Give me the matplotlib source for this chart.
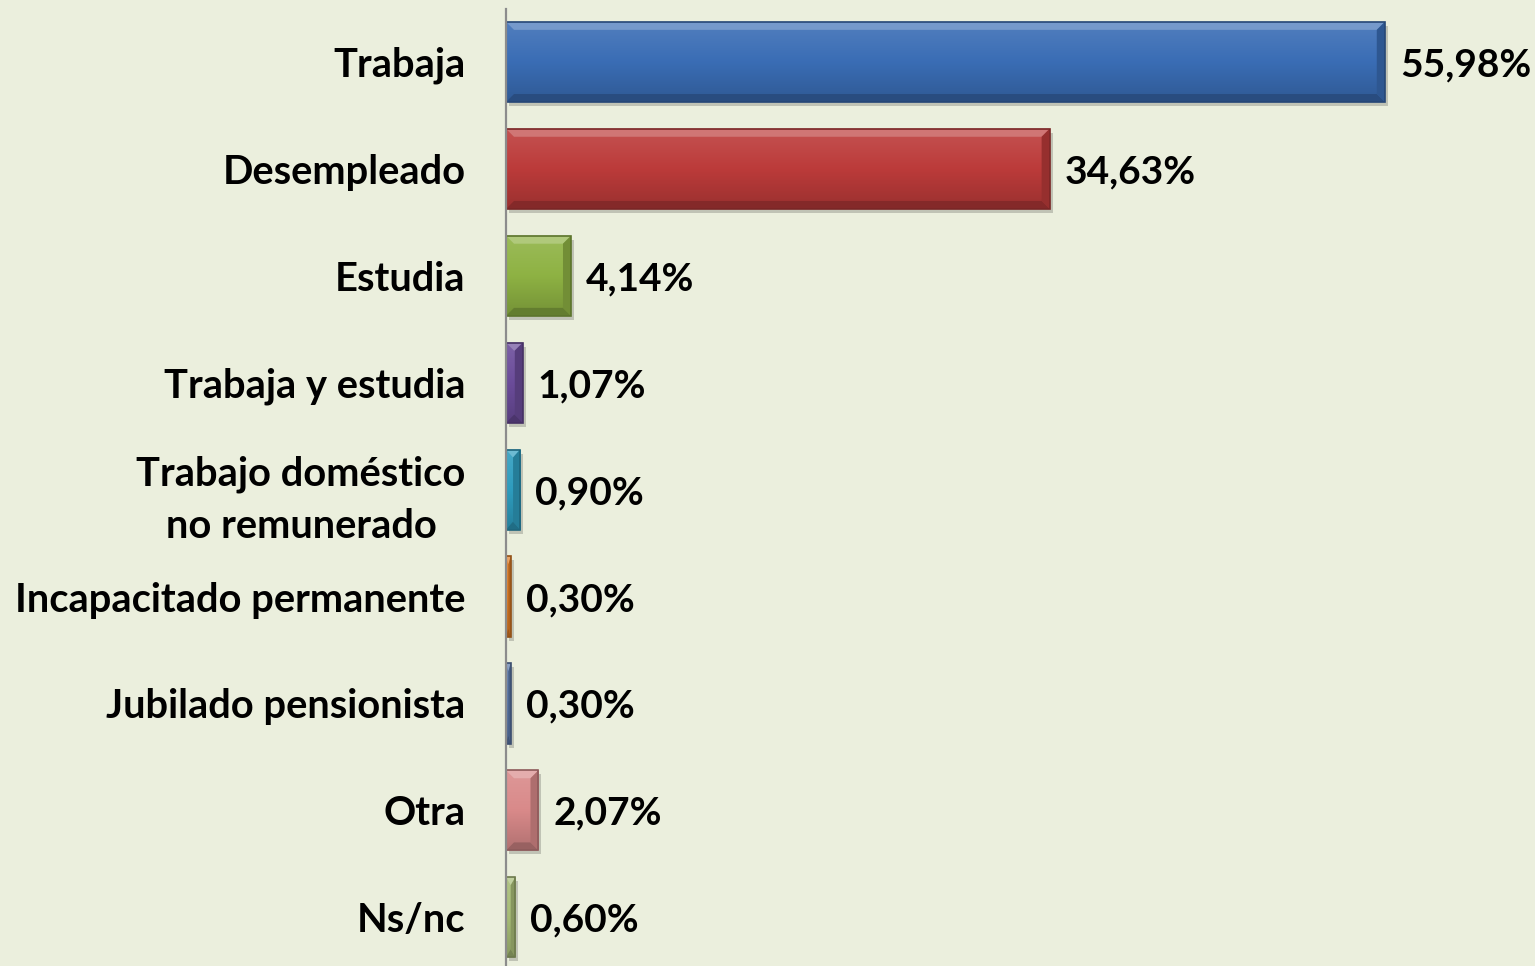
import numpy as np
import matplotlib
matplotlib.use("Agg")
import matplotlib.pyplot as plt
from matplotlib.patches import Polygon
from matplotlib.colors import to_rgb
import matplotlib.transforms as mtransforms

categorias = ["Trabaja", "Desempleado", "Estudia", "Trabaja y estudia",
              "Trabajo doméstico\nno remunerado", "Incapacitado permanente",
              "Jubilado pensionista", "Otra", "Ns/nc"]
porcentajes = [55.98, 34.63, 4.14, 1.07, 0.90, 0.30, 0.30, 2.07, 0.60]
etiquetas = ["55,98%", "34,63%", "4,14%", "1,07%", "0,90%", "0,30%", "0,30%", "2,07%", "0,60%"]
colores = ["#3A6DB5", "#BC3B3A", "#8EB243", "#6B4C9A", "#2E9CBE",
           "#E07C24", "#5B78AA", "#D98A8A", "#A7BC76"]

fondo = "#EBEFDD"
plt.rcParams['font.family'] = ['Lato', 'DejaVu Sans']

fig = plt.figure(figsize=(15.35, 9.66), dpi=100, facecolor=fondo)
ax = fig.add_axes([506 / 1535, -4.7 / 966, 1 - 506 / 1535, 962.2 / 966])
ax.set_facecolor(fondo)

alto = 0.75
ax.set_xlim(0, 65.55)
ax.set_ylim(len(categorias) - 0.5, -0.5)


def mezcla(c, otro, t):
    c = np.array(to_rgb(c))
    return tuple(c * (1 - t) + np.array(otro) * t)


# px -> unidades de datos
px_x = 65.55 / (1535 - 506)
px_y = 9.0 / 962.2

for i, (v, c) in enumerate(zip(porcentajes, colores)):
    y0 = i - alto / 2
    y1 = i + alto / 2
    # sombra
    sombra = mtransforms.offset_copy(ax.transData, fig=fig, x=3, y=-4, units='dots')
    ax.barh(i, v, height=alto, color="#000000", alpha=0.18, transform=sombra,
            zorder=1, linewidth=0)
    barra = ax.barh(i, v, height=alto, color=c, zorder=2, linewidth=0)[0]
    # degradado vertical
    n = 64
    t = np.linspace(0, 1, n)
    grad = np.zeros((n, 1, 3))
    for k in range(n):
        if t[k] < 0.5:
            grad[k, 0] = mezcla(c, (1, 1, 1), 0.12 * (0.5 - t[k]) * 2)
        else:
            grad[k, 0] = mezcla(c, (0, 0, 0), 0.18 * (t[k] - 0.5) * 2)
    im = ax.imshow(grad, extent=(0, v, y1, y0), aspect='auto', zorder=3,
                   interpolation='bilinear')
    im.set_clip_path(barra)
    # biseles
    bx = min(8 * px_x, v / 2)
    by = 8 * px_y
    arriba = Polygon([(0, y0), (v, y0), (v - bx, y0 + by), (bx, y0 + by)],
                     closed=True, facecolor=mezcla(c, (1, 1, 1), 0.3),
                     edgecolor='none', zorder=4)
    abajo = Polygon([(0, y1), (v, y1), (v - bx, y1 - by), (bx, y1 - by)],
                    closed=True, facecolor=mezcla(c, (0, 0, 0), 0.3),
                    edgecolor='none', zorder=4)
    derecha = Polygon([(v, y0), (v, y1), (v - bx, y1 - by), (v - bx, y0 + by)],
                      closed=True, facecolor=mezcla(c, (0, 0, 0), 0.2),
                      edgecolor='none', zorder=4)
    for p in (arriba, abajo, derecha):
        ax.add_patch(p)
    ax.add_patch(Polygon([(0, y0), (v, y0), (v, y1), (0, y1)], closed=True,
                         facecolor='none', edgecolor=mezcla(c, (0, 0, 0), 0.35),
                         linewidth=1.2, zorder=5))
    ax.annotate(etiquetas[i], xy=(v, i), xytext=(15, -3), textcoords='offset pixels',
                ha='left', va='center', fontsize=28, fontweight='bold',
                color='black', zorder=6)

ax.set_yticks(range(len(categorias)))
ax.set_yticklabels(categorias, fontsize=28.7, fontweight='bold', multialignment='center',
                   linespacing=1.5)
ax.tick_params(axis='y', length=0, pad=29)
ax.set_xticks([])
for lado in ("top", "right", "bottom"):
    ax.spines[lado].set_visible(False)
ax.spines["left"].set_color("#8C8C8C")
ax.spines["left"].set_linewidth(1.6)
ax.spines["left"].set_zorder(7)

fig.savefig("out.png", dpi=100, facecolor=fondo)
